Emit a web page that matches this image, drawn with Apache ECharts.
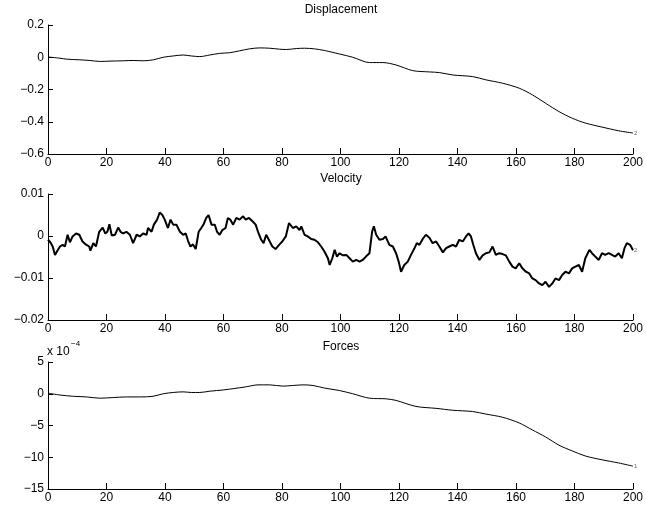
<!DOCTYPE html>
<html>
<head>
<meta charset="utf-8">
<script src="https://cdn.jsdelivr.net/npm/echarts@6/dist/echarts.min.js"></script>
<style>
  html, body { margin: 0; padding: 0; background: #fff; }
  #chart { width: 646px; height: 510px; }
</style>
</head>
<body>
<div id="chart"></div>
<script>
// Time axis ticks shared by all three panels
const timeTicks = [0, 20, 40, 60, 80, 100, 120, 140, 160, 180, 200];

// Displacement samples: [time, displacement]
const displacement = [
  [0, 0.002], [4.1, -0.006], [6.4, -0.012], [10.9, -0.016], [14.3, -0.02],
  [17.7, -0.026], [21.2, -0.024], [25.7, -0.022], [29.1, -0.02], [32.5, -0.022],
  [36, -0.016], [39.4, 0.0], [42.8, 0.008], [46.2, 0.014], [49, 0.008],
  [51.9, 0.004], [55.3, 0.014], [58.7, 0.024], [62.1, 0.028], [65.5, 0.04],
  [68.9, 0.052], [72.4, 0.058], [75.8, 0.056], [79.2, 0.05], [81.5, 0.048],
  [84.9, 0.054], [87.7, 0.056], [91.1, 0.052], [94.5, 0.042], [99.7, 0.02],
  [104.2, 0.0], [109.9, -0.033], [114.5, -0.033], [119, -0.048], [124.7, -0.083],
  [130.4, -0.091], [133.8, -0.095], [138.4, -0.11], [145.2, -0.12], [149.7, -0.14],
  [155.4, -0.161], [161.1, -0.192], [165.6, -0.233], [170.1, -0.285], [174.7, -0.337],
  [179.2, -0.378], [183.7, -0.408], [189.4, -0.433], [195.1, -0.456], [200, -0.47]
];

// Velocity samples: [time, velocity in units of 1e-3]
const velocityMilli = [
  [0, -0.9], [0.8, -1.5], [1.6, -2.5], [2.4, -4.5], [3.2, -3.5], [4.1, -2.5],
  [5, -2.1], [5.8, -2.5], [6.7, 0.3], [7.5, -1.5], [8.4, -0.1], [9.6, 0.6],
  [10.7, 0.3], [11.8, -1.3], [12.9, -2], [14.1, -2.5], [14.5, -3.5], [15.5, -1.7],
  [16.4, -2.5], [17.5, 1.0], [18.7, 2], [19.6, 0.6], [20.3, 1], [21, 2.8],
  [21.8, 0.1], [22.9, 0.3], [24, 2], [24.8, 1], [25.7, 0.6], [26.8, 1],
  [28, 0.3], [29.1, -1.7], [30.3, 0.3], [31.4, -0.1], [32.5, 0.6], [33.7, 0.3],
  [34.2, 1.9], [35.4, 1], [36.2, 2.7], [37.3, 3.9], [38.2, 5.6], [39.1, 5],
  [39.9, 3.9], [41, 1.9], [41.9, 3.9], [42.8, 2.7], [43.9, 2.7], [45.1, 1],
  [46.2, 0.3], [47.1, 0.6], [47.9, -1.2], [48.7, -2.5], [49.6, -2], [50.5, -3.1],
  [51.5, 1], [52.4, 1.9], [53.2, 2.8], [54.1, 4.3], [54.9, 5], [55.9, 2.7],
  [57, 2.7], [57.8, 1], [58.7, 0.3], [59.6, 1.4], [60.7, 1.9], [61.5, 4.3],
  [62.3, 3.9], [63.3, 2.7], [64.4, 4.3], [65.5, 3.9], [66.7, 4.7], [67.6, 3.9],
  [68.7, 4.3], [69.9, 3.5], [71, 2.7], [71.8, 1], [72.9, -0.9], [73.7, -1.7],
  [74.6, 0.3], [75.5, -0.9], [76.7, -2.5], [77.8, -3.1], [79, -2.1], [80.1, -1.3],
  [81.3, -0.1], [82.4, 3.1], [83.7, 1.9], [84.9, 2.3], [86, 1.4], [86.6, 2.3],
  [87.7, 0.3], [88.8, -0.1], [90, -0.7], [91.1, -0.9], [92.3, -1.5], [93.4, -2.5],
  [94.5, -3.7], [95.7, -5.3], [96.3, -6.9], [97.2, -5.3], [98, -3.3], [98.8, -4.9],
  [99.7, -4.1], [100.8, -4.6], [102, -4.5], [103.1, -5.3], [104.2, -6.1], [105.4, -5.7],
  [106.5, -6.1], [107.6, -5.7], [108.7, -4.9], [109.9, -4.1], [110.8, 1], [111.4, 2.3],
  [112.2, 0.3], [113.3, -0.9], [114.5, -0.7], [115.4, -0.1], [116.7, -2.1], [117.9, -2.5],
  [119, -4.1], [119.9, -6.1], [120.7, -8.5], [121.8, -6.9], [123, -6.1], [124.1, -4.5],
  [125.3, -2.9], [126.1, -1.7], [127, -2.1], [128.1, -0.7], [129.2, 0.3], [130.4, -0.4],
  [131.5, -1.7], [132.7, -1.3], [133.8, -2.5], [135, -3.9], [136.1, -2.9], [137.2, -2.5],
  [138.4, -2.1], [139.5, -2.5], [140.6, -0.9], [141.8, -1.3], [142.9, -0.1], [143.8, 0.6],
  [144.6, -0.1], [145.4, -2.1], [146.3, -4.1], [147.5, -5.7], [148.6, -4.6], [149.7, -4.1],
  [150.9, -3.9], [152, -2.5], [153.1, -4.5], [154.3, -4.1], [155.4, -4.3], [156.5, -4.6],
  [157.7, -6.1], [158.8, -7.3], [159.9, -7.7], [161.1, -6.5], [162.2, -7.7], [163.4, -8.5],
  [164.5, -8.9], [165.6, -10.1], [166.7, -10.5], [167.9, -11.3], [169, -11.7], [170.1, -10.9],
  [171.3, -12.1], [172.4, -11.3], [173.5, -10.1], [174.7, -10.5], [175.8, -9.3], [176.9, -8.5],
  [178.1, -8.9], [179.2, -7.7], [180.3, -7.3], [181.5, -6.9], [182.6, -8.5], [183.7, -5.3],
  [185.1, -3.3], [186, -4.1], [187.1, -4.9], [188.3, -5.7], [189.4, -4.1], [190.5, -4.5],
  [191.7, -4.1], [192.8, -4.5], [193.9, -4.9], [195.1, -4.1], [196.2, -5.3], [197.1, -2.9],
  [197.9, -1.7], [199, -2.1], [200, -3.4]
];

// Force samples: [time, force in units of 1e-4]
const forces = [
  [0, 0.1], [4.1, -0.2], [8.7, -0.4], [13.2, -0.5], [17.7, -0.7], [22.3, -0.6],
  [26.8, -0.5], [31.4, -0.5], [35.9, -0.4], [39.4, 0.0], [42.8, 0.2], [46.2, 0.3],
  [49, 0.2], [51.9, 0.2], [55.3, 0.4], [59.9, 0.6], [63.3, 0.8], [67.8, 1.1],
  [71.8, 1.4], [75.8, 1.4], [80.3, 1.2], [83.7, 1.3], [87.2, 1.4], [90.6, 1.3],
  [94.5, 0.9], [99.7, 0.5], [104.2, 0.0], [109.9, -0.7], [115.6, -0.8], [119, -1.05],
  [125.8, -2.0], [132.7, -2.3], [138.4, -2.6], [145.2, -2.8], [149.7, -3.2], [155.4, -3.7],
  [161.1, -4.6], [165.6, -5.7], [170.1, -6.8], [174.7, -8.1], [179.2, -9.0], [183.7, -9.8],
  [189.4, -10.4], [195.1, -10.9], [200, -11.4]
];

// Y-axis ranges per panel: [min, max, interval]
const displacementRange = [-0.6, 0.2, 0.2];
const velocityRange = [-0.02, 0.01, 0.01];
const forcesRange = [-15, 5, 5];

const panelTitles = ['Displacement', 'Velocity', 'Forces'];
const endTags = ['2', '2', '1'];

const FONT = '"Liberation Sans", Arial, Helvetica, sans-serif';
const INK = '#000';

function fmt(v) {
  const n = Number(v.toFixed(4));
  const s = String(n);
  return s.charAt(0) === '-' ? '\u2212' + s.slice(1) : s;
}

const grids = [
  { left: 48, right: 12, top: 25, height: 129 },
  { left: 48, right: 12, top: 194, height: 126 },
  { left: 48, right: 12, top: 362, height: 127 }
];

function xAxisFor(i) {
  return {
    type: 'value', gridIndex: i, min: timeTicks[0], max: timeTicks[timeTicks.length - 1],
    interval: timeTicks[1] - timeTicks[0],
    axisLine: { show: true, onZero: false, lineStyle: { color: INK, width: 1 } },
    axisTick: { show: true, inside: true, length: 6, lineStyle: { color: INK } },
    axisLabel: { color: INK, fontFamily: FONT, fontSize: 12, margin: 3, formatter: fmt },
    splitLine: { show: false }
  };
}

function yAxisFor(i, range) {
  return {
    type: 'value', gridIndex: i, min: range[0], max: range[1], interval: range[2],
    axisLine: { show: true, onZero: false, lineStyle: { color: INK, width: 1 } },
    axisTick: { show: true, inside: true, length: 5, lineStyle: { color: INK } },
    axisLabel: { color: INK, fontFamily: FONT, fontSize: 12, margin: 4, formatter: fmt },
    splitLine: { show: false }
  };
}

function lineSeries(i, data, width) {
  return {
    type: 'line', xAxisIndex: i, yAxisIndex: i, data: data,
    showSymbol: false, symbol: 'none', smooth: width < 1.5 ? 0.3 : false,
    lineStyle: { color: INK, width: width },
    animation: false,
    endLabel: {
      show: true, formatter: endTags[i], fontSize: 6, color: '#666',
      fontFamily: FONT, distance: 1
    }
  };
}

const velocity = velocityMilli.map(p => [p[0], p[1] / 1000]);

const titleTops = [4, 173, 341];

const option = {
  animation: false,
  backgroundColor: '#fff',
  title: panelTitles.map((t, i) => ({
    text: t, left: 341, top: titleTops[i], textAlign: 'center', padding: 0,
    textStyle: { fontFamily: FONT, fontSize: 12, fontWeight: 'normal', color: INK }
  })),
  grid: grids,
  xAxis: [xAxisFor(0), xAxisFor(1), xAxisFor(2)],
  yAxis: [yAxisFor(0, displacementRange), yAxisFor(1, velocityRange), yAxisFor(2, forcesRange)],
  series: [
    lineSeries(0, displacement, 1),
    lineSeries(1, velocity, 2),
    lineSeries(2, forces, 1)
  ],
  graphic: [
    { type: 'text', left: 47, top: 346, style: { text: 'x 10', fontFamily: FONT, fontSize: 12, fill: INK } },
    { type: 'text', left: 71, top: 340, style: { text: '\u22124', fontFamily: FONT, fontSize: 8, fill: INK } }
  ]
};

const chart = echarts.init(document.getElementById('chart'), null, { renderer: 'canvas' });
chart.setOption(option);
</script>
</body>
</html>
